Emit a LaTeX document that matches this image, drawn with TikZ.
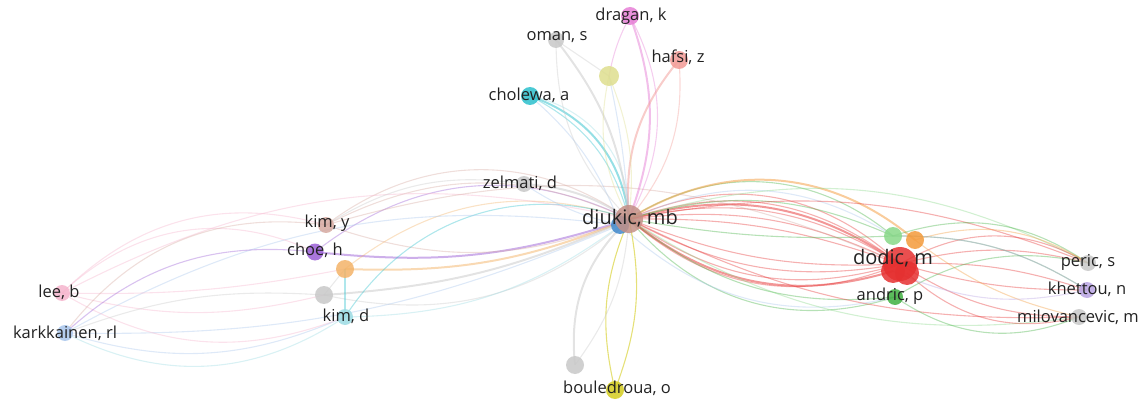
\documentclass[tikz,border=0pt]{standalone}
\usepackage{fontspec}
\setmainfont{Open Sans}
\usetikzlibrary{backgrounds}
\definecolor{cBrown}{HTML}{C49087}
\definecolor{cBlue}{HTML}{3F88CC}
\definecolor{cRed}{HTML}{E53030}
\definecolor{cGreen}{HTML}{40B040}
\definecolor{cLGreen}{HTML}{88D888}
\definecolor{cOrange}{HTML}{F39A3A}
\definecolor{cGrey}{HTML}{C8C8C8}
\definecolor{cLav}{HTML}{B9A3E3}
\definecolor{cCyan}{HTML}{2CC0CC}
\definecolor{cPink}{HTML}{E67FD6}
\definecolor{cSalmon}{HTML}{F29A95}
\definecolor{cPaleY}{HTML}{DEDE8E}
\definecolor{cRosy}{HTML}{D6A9A0}
\definecolor{cPurple}{HTML}{9B5FD6}
\definecolor{cLOrange}{HTML}{F3B368}
\definecolor{cLCyan}{HTML}{9BDBE3}
\definecolor{cLPink}{HTML}{F5B4CC}
\definecolor{cLBlue}{HTML}{A8C6EC}
\definecolor{cYellow}{HTML}{D4CC1E}
\definecolor{cText}{HTML}{222222}
\begin{document}
\begin{tikzpicture}[x=1pt,y=-1pt,
  dot/.style={circle,inner sep=0pt,minimum size=#1,fill opacity=0.85},
  lbl/.style={text=cText,font=\fontsize{16.5}{17}\selectfont,inner sep=0pt},
  biglbl/.style={text=cText,font=\fontsize{20}{21}\selectfont,inner sep=0pt},
  ln/.style={draw=#1,line width=1.1pt,draw opacity=0.38},
  thick ln/.style={draw=#1,line width=2pt,draw opacity=0.5}]
\useasboundingbox (0,0) rectangle (1146,401);

% ---- author circles ----
\node[dot=18pt,fill=cBlue] (djb) at (620,225) {};
\node[dot=28pt,fill=cBrown] (dj) at (629,219) {};
\node[dot=24pt,fill=cRed] (dor) at (893,271) {};
\node[dot=24pt,fill=cRed] (dor2) at (907,273) {};
\node[dot=34pt,fill=cRed] (do) at (900,264) {};
\node[dot=18pt,fill=cLGreen] (dg) at (893,236) {};
\node[dot=18pt,fill=cOrange] (oo) at (915,240) {};
\node[dot=16pt,fill=cGreen] (an) at (895,297) {};
\node[dot=16pt,fill=cGrey] (pe) at (1088,263) {};
\node[dot=16pt,fill=cLav] (kh) at (1087,290) {};
\node[dot=16pt,fill=cGrey] (mi) at (1079,317) {};
\node[dot=16pt,fill=cGrey] (ze) at (524,184) {};
\node[dot=18pt,fill=cCyan] (ch) at (530,96) {};
\node[dot=16pt,fill=cGrey] (om) at (556,40) {};
\node[dot=18pt,fill=cPink] (dr) at (630,16) {};
\node[dot=18pt,fill=cSalmon] (ha) at (679,60) {};
\node[dot=20pt,fill=cPaleY] (ye) at (609,76) {};
\node[dot=16pt,fill=cRosy] (ky) at (326,225) {};
\node[dot=17pt,fill=cPurple] (che) at (315,252) {};
\node[dot=18pt,fill=cLOrange] (or) at (345,269) {};
\node[dot=18pt,fill=cGrey] (gr) at (324,295) {};
\node[dot=16pt,fill=cLCyan] (kd) at (345,317) {};
\node[dot=16pt,fill=cLPink] (lb) at (62,293) {};
\node[dot=16pt,fill=cLBlue] (ka) at (65,333) {};
\node[dot=18pt,fill=cYellow] (bo) at (615,390) {};
\node[dot=18pt,fill=cGrey] (gb) at (575,365) {};

% ---- labels ----
\node[biglbl] (ldj) at (630,219) {djukic, mb};
\node[biglbl] (ldo) at (893,258) {dodic, m};
\node[lbl] (lan) at (890,296) {andric, p};
\node[lbl] (lpe) at (1088,262) {peric, s};
\node[lbl] (lkh) at (1087,289) {khettou, n};
\node[lbl] (lmi) at (1078,317) {milovancevic, m};
\node[lbl] (lze) at (520,183) {zelmati, d};
\node[lbl] (lch) at (529,95) {cholewa, a};
\node[lbl] (lom) at (557,37) {oman, s};
\node[lbl] (ldr) at (631,16) {dragan, k};
\node[lbl] (lha) at (678,57) {hafsi, z};
\node[lbl] (lky) at (327,223) {kim, y};
\node[lbl] (lche) at (315,250) {choe, h};
\node[lbl] (lkd) at (346,316) {kim, d};
\node[lbl] (llb) at (59,292) {lee, b};
\node[lbl] (lka) at (65,333) {karkkainen, rl};
\node[lbl] (lbo) at (617,388) {bouledroua, o};

% ---- co-authorship links ----
\begin{scope}[on background layer]
  % djukic -- dodic group
  \foreach \b in {10,16,22,28,34} \draw[ln=cRed] (dj.center) to[bend left=\b] (do.center);
  \foreach \b in {12,19,26,32} \draw[ln=cRed] (dj.center) to[bend right=\b] (do.center);
  \draw[thick ln=cRed] (dj.center) to[bend left=25] (do.center);
  \draw[thick ln=cRed] (dj.center) to[bend right=28] (dor.center);
  \draw[ln=cGreen] (dj.center) to[bend left=36] (dg.center);
  \draw[ln=cGreen] (dj.center) to[bend left=20] (dg.center);
  \draw[ln=cGreen] (dj.center) to[bend right=6] (dg.center);
  \draw[thick ln=cOrange] (dj.center) to[bend left=36] (oo.center);
  \draw[ln=cGreen] (dj.center) to[bend right=22] (an.center);
  \draw[ln=cGreen] (dj.center) to[bend right=34] (an.center);
  \draw[ln=cLBlue] (djb.center) to[bend right=28] (an.center);
  \draw[ln=cLBlue] (djb.center) to[bend left=30] (dg.center);
  \draw[ln=cLGreen] (dj.center) to[bend left=22] (pe.center);
  \draw[ln=cRed] (dj.center) to[bend left=16] (pe.center);
  \draw[ln=cRed] (dj.center) to[bend right=14] (mi.center);
  \draw[ln=cLGreen] (dj.center) to[bend right=20] (mi.center);
  % dodic group -- right nodes
  \draw[ln=cRed] (do.center) to[bend left=30] (pe.center);
  \draw[ln=cRed] (do.center) to[bend left=14] (pe.center);
  \draw[ln=cRed] (do.center) to[bend left=10] (kh.center);
  \draw[ln=cRed] (do.center) to[bend right=8] (kh.center);
  \draw[ln=cRed] (do.center) to[bend right=16] (mi.center);
  \draw[ln=cRed] (dor2.center) to[bend right=28] (mi.center);
  \draw[ln=cGreen] (dg.center) to[bend left=26] (pe.center);
  \draw[ln=cGreen] (dg.center) to[bend left=16] (kh.center);
  \draw[ln=cGreen] (an.center) to[bend right=28] (mi.center);
  \draw[ln=cGreen] (an.center) to[bend left=22] (pe.center);
  \draw[ln=cOrange] (oo.center) to[bend left=24] (pe.center);
  \draw[ln=cOrange] (oo.center) to[bend right=12] (mi.center);
  \draw[ln=cLav] (kh.center) to[bend left=18] (dor.center);
  \draw[ln=cLav] (kh.center) to[bend right=16] (dg.center);
  % left cluster -- djukic
  \draw[ln=cPurple] (che.center) to[bend left=32] (dj.center);
  \draw[thick ln=cPurple] (che.center) to[bend right=12] (dj.center);
  \draw[ln=cRosy] (ky.center) to[bend left=36] (dj.center);
  \draw[ln=cRosy] (ky.center) to[bend left=26] (dj.center);
  \draw[ln=cRosy] (ky.center) to[bend right=20] (dj.center);
  \draw[ln=cLOrange] (or.center) to[bend left=28] (dj.center);
  \draw[thick ln=cLOrange] (or.center) to[bend right=12] (dj.center);
  \draw[ln=cGrey] (gr.center) to[bend right=26] (dj.center);
  \draw[thick ln=cGrey] (gr.center) to[bend right=10] (dj.center);
  \draw[ln=cCyan] (kd.center) to[bend left=38] (dj.center);
  \draw[ln=cLCyan] (kd.center) to[bend right=18] (dj.center);
  \draw[ln=cLBlue] (ka.center) to[bend right=12] (djb.center);
  \draw[ln=cLBlue] (ka.center) to[bend left=18] (djb.center);
  \draw[ln=cLPink] (lb.center) to[bend left=20] (dj.center);
  \draw[thick ln=cGrey] (ze.center) to[bend left=14] (dj.center);
  \draw[ln=cGrey] (ze.center) to[bend right=20] (ky.center);
  \draw[ln=cLBlue] (ze.center) to[bend right=10] (djb.center);
  \draw[ln=cRosy] (ky.center) to[bend left=20] (do.center);
  % outer left links
  \draw[ln=cLPink] (lb.center) to[bend left=34] (che.center);
  \draw[ln=cLPink] (lb.center) to[bend left=30] (ky.center);
  \draw[ln=cLPink] (lb.center) to[bend right=14] (gr.center);
  \draw[ln=cLPink] (lb.center) to[bend right=6] (or.center);
  \draw[ln=cLPink] (lb.center) to[bend right=26] (kd.center);
  \draw[ln=cPurple] (ka.center) to[bend left=24] (che.center);
  \draw[ln=cRosy] (ka.center) to[bend left=30] (ky.center);
  \draw[ln=cGrey] (ka.center) to[bend left=12] (gr.center);
  \draw[ln=cLBlue] (ka.center) to[bend right=20] (kd.center);
  \draw[ln=cLCyan] (ka.center) to[bend right=30] (kd.center);
  \draw[ln=cGrey] (gr.center) -- (or.center);
  \draw[ln=cCyan] (kd.center) -- (or.center);
  % top links
  \draw[ln=cCyan] (ch.center) to[bend left=24] (dj.center);
  \draw[thick ln=cCyan] (ch.center) to[bend left=32] (dj.center);
  \draw[ln=cLCyan] (ch.center) to[bend left=40] (dj.center);
  \draw[ln=cLBlue] (ch.center) to[bend left=14] (djb.center);
  \draw[thick ln=cGrey] (om.center) to[bend left=16] (dj.center);
  \draw[ln=cGrey] (om.center) to[bend right=22] (dj.center);
  \draw[ln=cGrey] (om.center) -- (ye.center);
  \draw[thick ln=cPink] (dr.center) to[bend left=20] (dj.center);
  \draw[ln=cPink] (dr.center) to[bend left=28] (dj.center);
  \draw[ln=cPink] (dr.center) to[bend right=8] (ye.center);
  \draw[thick ln=cSalmon] (ha.center) to[bend right=22] (dj.center);
  \draw[ln=cSalmon] (ha.center) to[bend left=22] (dj.center);
  \draw[ln=cPaleY] (ye.center) to[bend left=14] (dj.center);
  \draw[ln=cPaleY] (ye.center) to[bend right=20] (dj.center);
  \draw[ln=cLBlue] (ye.center) to[bend left=4] (dj.center);
  % bottom links
  \draw[ln=cYellow,draw opacity=0.6] (bo.center) to[bend left=18] (dj.center);
  \draw[ln=cYellow,draw opacity=0.6] (bo.center) to[bend right=16] (dj.center);
  \draw[thick ln=cGrey] (gb.center) to[bend left=26] (dj.center);
  \draw[ln=cGrey] (gb.center) to[bend right=16] (dj.center);
\end{scope}
\end{tikzpicture}
\end{document}
